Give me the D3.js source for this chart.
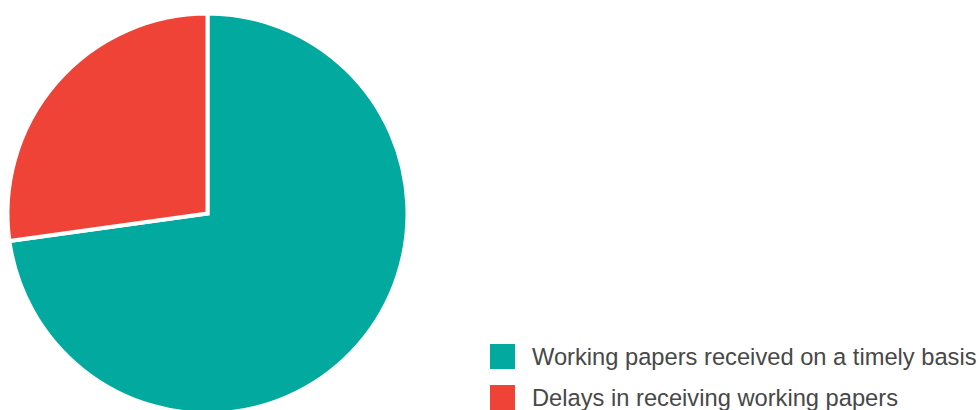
<!DOCTYPE html>
<html>
<head>
<meta charset="utf-8">
<script src="https://cdn.jsdelivr.net/npm/d3@7"></script>
<style>
  body { margin: 0; background: #fff; }
  svg { display: block; }
</style>
</head>
<body>
<svg width="980" height="410"></svg>
<script>
var labels = ["Working papers received on a timely basis", "Delays in receiving working papers"];
var values = [72.8, 27.2];
var colors = ["#02a99e", "#ef4338"];

var svg = d3.select("svg"),
    cx = 207.5,
    cy = 213.5,
    radius = 200;

var pie = d3.pie()
    .sort(null)
    .value(function(d) { return d; });

var arc = d3.arc()
    .innerRadius(0)
    .outerRadius(radius);

var g = svg.append("g")
    .attr("transform", "translate(" + cx + "," + cy + ")");

g.selectAll("path")
    .data(pie(values))
  .enter().append("path")
    .attr("d", arc)
    .attr("fill", function(d, i) { return colors[i]; })
    .attr("stroke", "#fff")
    .attr("stroke-width", 4)
    .attr("stroke-linejoin", "miter");

var legend = svg.append("g")
    .attr("transform", "translate(490,344)");

var item = legend.selectAll("g")
    .data(labels)
  .enter().append("g")
    .attr("transform", function(d, i) { return "translate(0," + (i * 41) + ")"; });

item.append("rect")
    .attr("width", 25)
    .attr("height", 25)
    .attr("fill", function(d, i) { return colors[i]; });

item.append("text")
    .attr("x", 42)
    .attr("y", 20.5)
    .style("font-family", "'Liberation Sans', Arial, sans-serif")
    .style("font-size", "23.7px")
    .attr("fill", "#484848")
    .text(function(d) { return d; });
</script>
</body>
</html>
